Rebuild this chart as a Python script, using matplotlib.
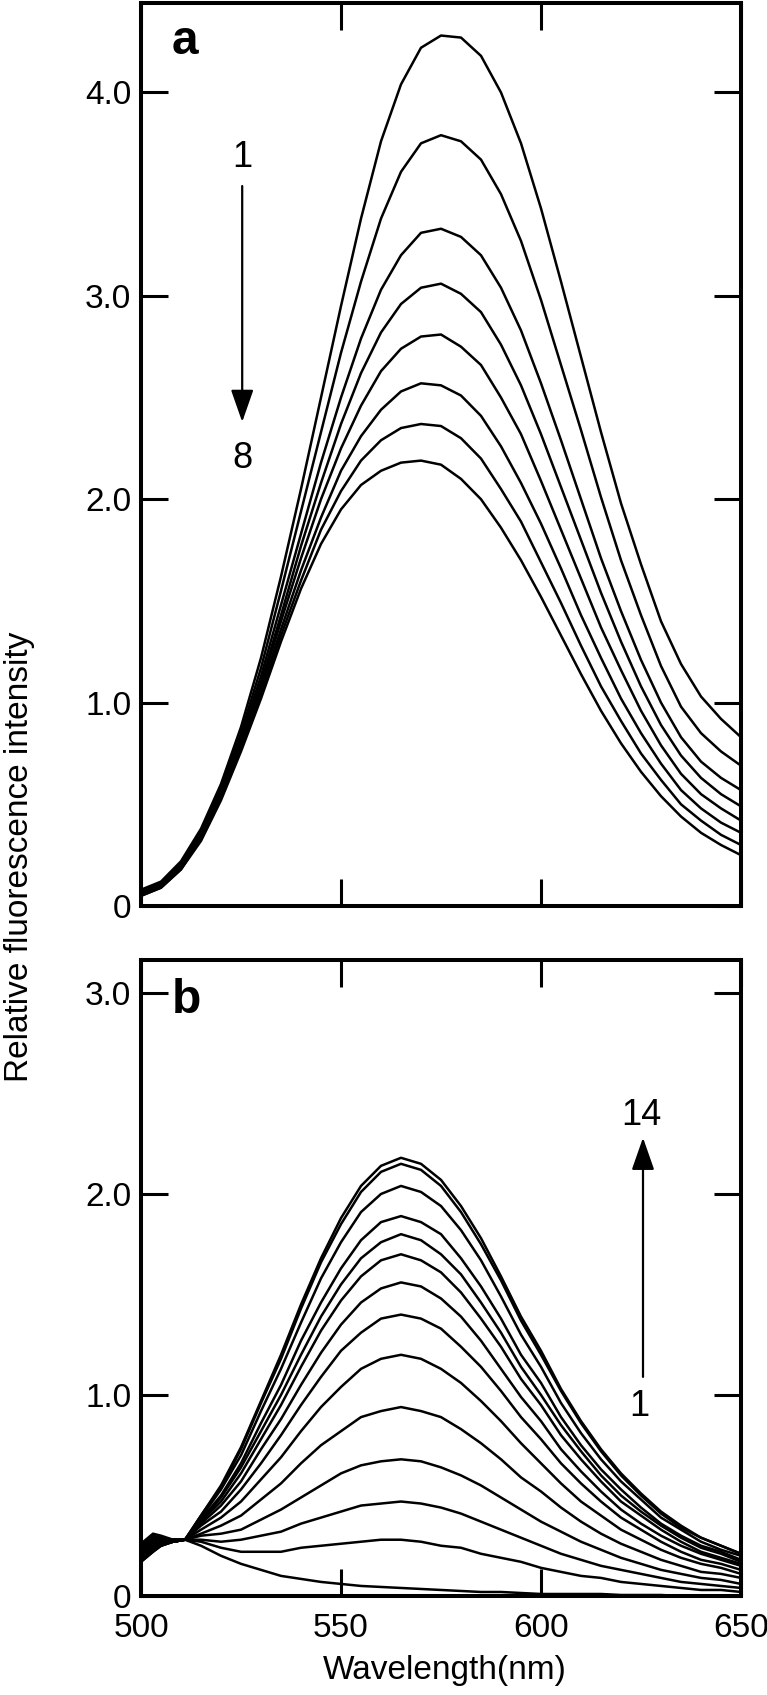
import matplotlib
matplotlib.use("Agg")
import matplotlib.pyplot as plt
import numpy as np

plt.rcParams['font.family'] = ['Liberation Sans', 'DejaVu Sans']

# ---------------- Panel a data ----------------
wl_a = list(range(500, 651, 5))
a1 = [0.08,0.12,0.22,0.38,0.60,0.88,1.22,1.62,2.05,2.50,2.95,3.38,3.76,4.04,4.22,4.28,4.27,4.18,4.00,3.75,3.43,3.07,2.70,2.33,1.98,1.68,1.40,1.19,1.03,0.92,0.83]
a2 = [0.07,0.11,0.21,0.37,0.58,0.85,1.17,1.55,1.94,2.33,2.72,3.07,3.38,3.61,3.75,3.79,3.76,3.67,3.50,3.27,2.98,2.66,2.34,2.01,1.70,1.43,1.18,0.98,0.85,0.76,0.69]
a3 = [0.07,0.11,0.20,0.35,0.56,0.83,1.13,1.48,1.83,2.18,2.50,2.79,3.03,3.20,3.31,3.33,3.29,3.20,3.04,2.83,2.57,2.29,2.00,1.71,1.45,1.21,1.00,0.83,0.71,0.63,0.57]
a4 = [0.06,0.10,0.20,0.35,0.55,0.81,1.10,1.43,1.77,2.08,2.37,2.62,2.82,2.96,3.04,3.06,3.01,2.92,2.76,2.56,2.32,2.06,1.80,1.54,1.30,1.08,0.89,0.74,0.63,0.55,0.49]
a5 = [0.06,0.10,0.19,0.34,0.54,0.80,1.08,1.40,1.71,2.00,2.25,2.46,2.63,2.74,2.80,2.81,2.75,2.66,2.50,2.32,2.09,1.85,1.61,1.37,1.16,0.96,0.79,0.65,0.55,0.48,0.42]
a6 = [0.06,0.10,0.19,0.33,0.53,0.78,1.06,1.36,1.65,1.91,2.14,2.31,2.44,2.53,2.57,2.56,2.51,2.41,2.26,2.08,1.88,1.66,1.43,1.22,1.02,0.85,0.70,0.57,0.48,0.41,0.36]
a7 = [0.05,0.09,0.18,0.33,0.53,0.77,1.04,1.33,1.60,1.85,2.04,2.19,2.29,2.35,2.37,2.36,2.30,2.20,2.05,1.89,1.69,1.49,1.28,1.08,0.91,0.75,0.62,0.50,0.42,0.35,0.30]
a8 = [0.05,0.09,0.18,0.32,0.52,0.76,1.02,1.30,1.56,1.78,1.95,2.07,2.14,2.18,2.19,2.17,2.10,2.00,1.86,1.70,1.52,1.33,1.14,0.96,0.80,0.66,0.54,0.44,0.36,0.30,0.25]
series_a = [a1, a2, a3, a4, a5, a6, a7, a8]

# ---------------- Panel b data ----------------
wl_b = [500,503,505,508,511,515,520,525,530,535,540,545,550,555,560,565,570,575,580,585,590,595,600,605,610,615,620,625,630,635,640,645,650]
b1  = [0.26,0.31,0.30,0.28,0.28,0.25,0.20,0.16,0.13,0.10,0.085,0.07,0.06,0.05,0.045,0.04,0.035,0.03,0.025,0.02,0.02,0.015,0.01,0.01,0.01,0.01,0.005,0.005,0.005,0.0,0.0,0.0,0.0]
b2  = [0.25,0.30,0.29,0.28,0.28,0.27,0.24,0.22,0.22,0.22,0.24,0.25,0.26,0.27,0.28,0.28,0.27,0.25,0.24,0.21,0.19,0.17,0.14,0.12,0.10,0.09,0.07,0.06,0.05,0.04,0.03,0.03,0.02]
b3  = [0.24,0.29,0.29,0.28,0.28,0.28,0.27,0.28,0.30,0.32,0.36,0.39,0.42,0.45,0.46,0.47,0.46,0.44,0.41,0.37,0.33,0.29,0.25,0.21,0.18,0.15,0.13,0.11,0.09,0.07,0.06,0.05,0.04]
b4  = [0.23,0.28,0.285,0.28,0.28,0.30,0.31,0.33,0.38,0.43,0.49,0.55,0.61,0.65,0.67,0.68,0.67,0.64,0.60,0.55,0.49,0.43,0.37,0.32,0.27,0.23,0.19,0.16,0.13,0.11,0.09,0.08,0.06]
b5  = [0.22,0.27,0.28,0.28,0.28,0.31,0.35,0.40,0.48,0.56,0.66,0.75,0.82,0.89,0.92,0.94,0.92,0.89,0.83,0.76,0.68,0.59,0.52,0.44,0.37,0.31,0.26,0.22,0.18,0.15,0.12,0.11,0.09]
b6  = [0.21,0.26,0.27,0.27,0.28,0.33,0.39,0.47,0.58,0.69,0.82,0.94,1.04,1.13,1.18,1.20,1.18,1.13,1.06,0.97,0.87,0.76,0.66,0.56,0.47,0.40,0.33,0.28,0.23,0.19,0.16,0.14,0.11]
b7  = [0.20,0.25,0.27,0.27,0.28,0.35,0.42,0.53,0.66,0.80,0.95,1.09,1.22,1.31,1.38,1.40,1.38,1.33,1.24,1.14,1.02,0.89,0.78,0.66,0.56,0.47,0.39,0.33,0.27,0.22,0.18,0.16,0.13]
b8  = [0.20,0.25,0.26,0.27,0.28,0.36,0.45,0.57,0.73,0.88,1.05,1.21,1.35,1.46,1.53,1.56,1.54,1.48,1.39,1.27,1.13,0.99,0.87,0.73,0.62,0.52,0.43,0.36,0.30,0.25,0.21,0.18,0.15]
b9  = [0.19,0.24,0.26,0.27,0.28,0.37,0.47,0.61,0.78,0.95,1.14,1.32,1.47,1.59,1.67,1.70,1.67,1.61,1.51,1.38,1.24,1.08,0.95,0.80,0.68,0.57,0.47,0.40,0.33,0.27,0.22,0.19,0.16]
b10 = [0.19,0.24,0.26,0.27,0.28,0.37,0.49,0.64,0.82,1.00,1.20,1.39,1.55,1.68,1.76,1.80,1.77,1.70,1.60,1.46,1.31,1.14,1.00,0.85,0.72,0.60,0.50,0.42,0.35,0.29,0.24,0.21,0.17]
b11 = [0.18,0.23,0.26,0.27,0.28,0.38,0.50,0.66,0.86,1.05,1.27,1.46,1.63,1.77,1.86,1.89,1.86,1.80,1.68,1.54,1.38,1.20,1.06,0.89,0.75,0.63,0.53,0.44,0.36,0.30,0.25,0.22,0.18]
b12 = [0.18,0.23,0.25,0.27,0.28,0.39,0.53,0.70,0.92,1.13,1.36,1.58,1.76,1.91,2.00,2.04,2.01,1.94,1.82,1.67,1.49,1.30,1.14,0.96,0.81,0.68,0.57,0.48,0.39,0.33,0.27,0.23,0.20]
b13 = [0.17,0.22,0.25,0.27,0.28,0.40,0.54,0.73,0.96,1.18,1.43,1.66,1.85,2.01,2.11,2.15,2.12,2.04,1.91,1.75,1.57,1.37,1.20,1.02,0.86,0.72,0.60,0.50,0.41,0.34,0.29,0.25,0.21]
b14 = [0.17,0.22,0.25,0.27,0.28,0.40,0.55,0.74,0.97,1.20,1.45,1.68,1.88,2.04,2.14,2.18,2.15,2.07,1.94,1.78,1.59,1.39,1.22,1.03,0.87,0.73,0.61,0.51,0.42,0.35,0.29,0.25,0.21]
series_b = [b1, b2, b3, b4, b5, b6, b7, b8, b9, b10, b11, b12, b13, b14]

x_ticks = [500, 550, 600, 650]
x_ticklabels = ["500", "550", "600", "650"]
ya_ticks = [0, 1.0, 2.0, 3.0, 4.0]
ya_ticklabels = ["0", "1.0", "2.0", "3.0", "4.0"]
yb_ticks = [0, 1.0, 2.0, 3.0]
yb_ticklabels = ["0", "1.0", "2.0", "3.0"]

W, H = 767, 1695
fig = plt.figure(figsize=(W / 100, H / 100), dpi=100)

def px_axes(left, top, right, bottom):
    return fig.add_axes([left / W, 1 - bottom / H, (right - left) / W, (bottom - top) / H])

axa = px_axes(141, 3, 741, 906)
axb = px_axes(141, 960, 741, 1596)

for ax in (axa, axb):
    for s in ax.spines.values():
        s.set_linewidth(2.9)
    ax.tick_params(direction='in', length=19.5, width=2.2, top=True, right=True,
                   labelsize=24, pad=7)
    ax.tick_params(axis='x', pad=12)
    ax.set_xlim(500, 650)
    ax.set_xticks(x_ticks)

axa.set_ylim(0, 4.44)
axa.set_yticks(ya_ticks)
axa.set_yticklabels(ya_ticklabels)
axa.set_xticklabels([])

axb.set_ylim(0, 3.164)
axb.set_yticks(yb_ticks)
axb.set_yticklabels(yb_ticklabels)
axb.set_xticklabels(x_ticklabels)

for s in series_a:
    axa.plot(wl_a, s, color='black', lw=1.8)
for s in series_b:
    axb.plot(wl_b, s, color='black', lw=1.8)

arrow_style = '-|>,head_length=1.0,head_width=0.35'
# panel a arrow 1 -> 8
axa.annotate('', xy=(525.3, 2.38), xytext=(525.3, 3.54),
             arrowprops=dict(arrowstyle=arrow_style, color='black', lw=1.6,
                             shrinkA=0, shrinkB=0, mutation_scale=20))
axa.text(525.3, 3.68, '1', ha='center', va='center', fontsize=26)
axa.text(525.3, 2.20, '8', ha='center', va='center', fontsize=26)

# panel b arrow 1 -> 14
axb.annotate('', xy=(625.5, 2.28), xytext=(625.5, 1.09),
             arrowprops=dict(arrowstyle=arrow_style, color='black', lw=1.6,
                             shrinkA=0, shrinkB=0, mutation_scale=20))
axb.text(625.0, 2.39, '14', ha='center', va='center', fontsize=26)
axb.text(624.5, 0.945, '1', ha='center', va='center', fontsize=26)

fig.text(172 / W, 1 - 54 / H, 'a', fontsize=34.5, fontweight='bold', ha='left', va='baseline')
fig.text(172 / W, 1 - 1013 / H, 'b', fontsize=34.5, fontweight='bold', ha='left', va='baseline')

fig.text(20 / W, 1 - 857 / H, 'Relative fluorescence intensity', rotation=90,
         fontsize=24, ha='center', va='center')
fig.text(445 / W, 1 - 1670 / H, 'Wavelength(nm)', fontsize=24, ha='center', va='center')

fig.savefig('out.png', dpi=100)
